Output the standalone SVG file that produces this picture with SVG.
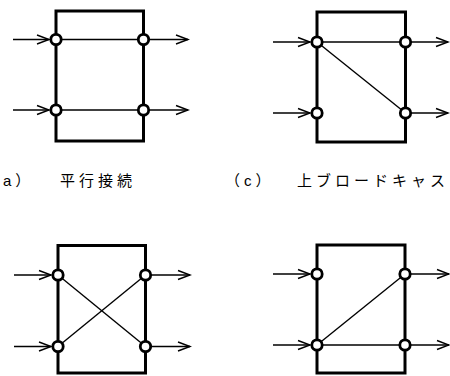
<svg xmlns="http://www.w3.org/2000/svg" width="450" height="376" viewBox="0 0 450 376">
<defs>
<marker id="ah" markerUnits="userSpaceOnUse" markerWidth="16" markerHeight="12" viewBox="-14 -6 16 12" refX="0" refY="0" orient="auto">
<path d="M-12,-4.5 L0,0 L-12,4.5" fill="none" stroke="#000" stroke-width="1.4"/>
</marker>
</defs>
<style>
.box{fill:none;stroke:#000;stroke-width:3}
.ln{fill:none;stroke:#000;stroke-width:1.4}
.ar{fill:none;stroke:#000;stroke-width:1.4;marker-end:url(#ah)}
.pt{fill:#fff;stroke:#000;stroke-width:2.8}
.lb{font-family:"Liberation Sans","Noto Sans CJK JP",sans-serif;font-size:15px;letter-spacing:4px;fill:#000}
</style>
<rect width="450" height="376" fill="#fff"/>
<g id="connectors">
<line class="ar" x1="13" y1="39.5" x2="49" y2="39.5"/>
<line class="ar" x1="13" y1="110" x2="49" y2="110"/>
<line class="ar" x1="149" y1="39.5" x2="188" y2="39.5"/>
<line class="ar" x1="149" y1="110" x2="188" y2="110"/>
<line class="ln" x1="56" y1="39.5" x2="143.5" y2="39.5"/>
<line class="ln" x1="56" y1="110" x2="143.5" y2="110"/>
<line class="ar" x1="273" y1="42" x2="310" y2="42"/>
<line class="ar" x1="273" y1="113" x2="310" y2="113"/>
<line class="ar" x1="411" y1="42" x2="448" y2="42"/>
<line class="ar" x1="411" y1="113" x2="448" y2="113"/>
<line class="ln" x1="317" y1="42" x2="405.5" y2="42"/>
<line class="ln" x1="317" y1="42" x2="405.5" y2="113"/>
<line class="ar" x1="14" y1="275" x2="51" y2="275"/>
<line class="ar" x1="14" y1="346.5" x2="51" y2="346.5"/>
<line class="ar" x1="151" y1="275" x2="190" y2="275"/>
<line class="ar" x1="151" y1="346.5" x2="190" y2="346.5"/>
<line class="ln" x1="58" y1="275" x2="145.5" y2="346.5"/>
<line class="ln" x1="58" y1="346.5" x2="145.5" y2="275"/>
<line class="ar" x1="273" y1="274" x2="310" y2="274"/>
<line class="ar" x1="273" y1="345" x2="310" y2="345"/>
<line class="ar" x1="410" y1="274" x2="449" y2="274"/>
<line class="ar" x1="410" y1="345" x2="449" y2="345"/>
<line class="ln" x1="317" y1="345" x2="405" y2="345"/>
<line class="ln" x1="317" y1="345" x2="405" y2="274"/>
</g>
<g id="panel-a">
<rect class="box" x="56" y="11" width="87.5" height="130"/>
<circle class="pt" cx="56" cy="39.5" r="5.2"/>
<circle class="pt" cx="143.5" cy="39.5" r="5.2"/>
<circle class="pt" cx="56" cy="110" r="5.2"/>
<circle class="pt" cx="143.5" cy="110" r="5.2"/>
<text class="lb" x="3" y="186">a）</text>
<text class="lb" x="60" y="186">平行接続</text>
</g>
<g id="panel-c">
<rect class="box" x="317" y="12" width="88.5" height="130"/>
<circle class="pt" cx="317" cy="42" r="5.2"/>
<circle class="pt" cx="405.5" cy="42" r="5.2"/>
<circle class="pt" cx="317" cy="113" r="5.2"/>
<circle class="pt" cx="405.5" cy="113" r="5.2"/>
<text class="lb" x="225" y="186">（c）</text>
<text class="lb" x="297" y="186">上ブロードキャス</text>
</g>
<g id="panel-b">
<rect class="box" x="58" y="245.5" width="87.5" height="127.5"/>
<circle class="pt" cx="58" cy="275" r="5.2"/>
<circle class="pt" cx="145.5" cy="275" r="5.2"/>
<circle class="pt" cx="58" cy="346.5" r="5.2"/>
<circle class="pt" cx="145.5" cy="346.5" r="5.2"/>
</g>
<g id="panel-d">
<rect class="box" x="317" y="245" width="88" height="128"/>
<circle class="pt" cx="317" cy="274" r="5.2"/>
<circle class="pt" cx="405" cy="274" r="5.2"/>
<circle class="pt" cx="317" cy="345" r="5.2"/>
<circle class="pt" cx="405" cy="345" r="5.2"/>
</g>
</svg>
